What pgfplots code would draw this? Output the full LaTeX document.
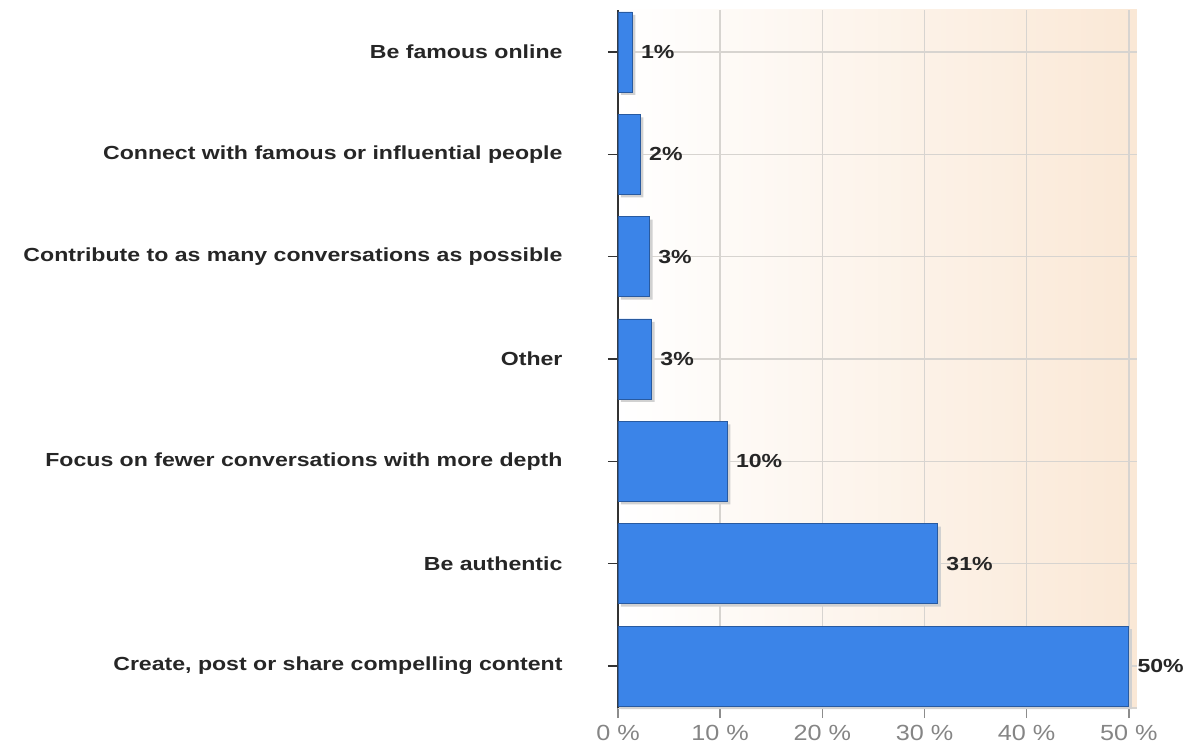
\documentclass[border=0pt]{standalone}
\usepackage{pgfplots}
\pgfplotsset{compat=1.18}
\usepackage{pgfplotstable}
\usepackage{fontspec}
\setmainfont{Liberation Sans}
\newfontfamily\lblfont[FakeStretch=1.22]{Liberation Sans}
\newfontfamily\tickfont[FakeStretch=1.15]{Liberation Sans}
\definecolor{barblue}{RGB}{59,132,232}
\definecolor{baredge}{RGB}{40,90,160}
\definecolor{peach}{RGB}{250,232,214}
\definecolor{gridgray}{RGB}{215,212,208}
\pgfplotstableread{
y val lab
0 50.0 50\%
1 31.3 31\%
2 10.7 10\%
3 3.3 3\%
4 3.1 3\%
5 2.2 2\%
6 1.4 1\%
}\datatab
\begin{document}
\begin{tikzpicture}
\begin{axis}[
  scale only axis,
  width=519bp, height=698bp,
  xbar, bar width=80bp,
  xmin=0, xmax=50.8,
  ymin=-0.41, ymax=6.41,
  axis background/.style={left color=white, right color=peach},
  axis x line*=bottom, axis y line*=left,
  x axis line style={draw=gridgray, line width=1.5bp},
  y axis line style={draw=black!80, line width=1.5bp},
  xtick={0,10,20,30,40,50},
  xticklabels={0 \%,10 \%,20 \%,30 \%,40 \%,50 \%},
  xticklabel style={font=\tickfont\fontsize{22}{26}\selectfont, text=black!48, yshift=-4bp},
  x tick style={draw=black!45, line width=1.5bp},
  ytick={0,1,2,3,4,5,6},
  yticklabels={{Create, post or share compelling content}, Be authentic, Focus on fewer conversations with more depth, Other, Contribute to as many conversations as possible, Connect with famous or influential people, Be famous online},
  yticklabel style={font=\lblfont\fontsize{19}{23}\selectfont\bfseries, text=black!85, xshift=-42bp},
  y tick style={draw=black!80, line width=1.5bp},
  tick align=outside,
  major tick length=10bp,
  xmajorgrids, ymajorgrids,
  grid style={draw=gridgray, line width=1.5bp},
  nodes near coords,
  point meta=explicit symbolic,
  every node near coord/.append style={font=\lblfont\fontsize{19}{23}\selectfont\bfseries, text=black!85, anchor=west, xshift=5bp},
  clip=false,
]
\addplot[fill=barblue, draw=baredge, line width=0.8bp,
  preaction={fill=black!18, draw=none, transform canvas={xshift=3bp, yshift=-3bp}}]
  table[x=val, y=y, meta=lab] {\datatab};
\end{axis}
\pgfresetboundingbox
\path (-618bp,-40bp) rectangle (573bp,708bp);
\end{tikzpicture}
\end{document}
